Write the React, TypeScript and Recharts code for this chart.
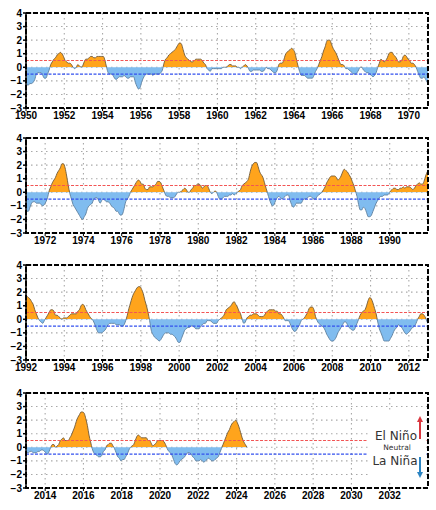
import React from 'react';
import { AreaChart, Area, XAxis, YAxis, CartesianGrid, ReferenceLine, ReferenceArea } from 'recharts';

// Oceanic Niño Index, 3-month running means (DJF ... NDJ), per decade
const oni1950s = [
  -1.3, -1.3, -1.2, -1.2, -1.1, -0.9, -0.5, -0.4, -0.4, -0.4, -0.6, -0.8,
  -0.8, -0.5, -0.2, 0.2, 0.4, 0.6, 0.7, 0.9, 1.0, 1.1, 1.0, 0.8,
  0.5, 0.4, 0.3, 0.3, 0.2, 0.0, -0.1, 0.0, 0.2, 0.1, 0.0, 0.1,
  0.4, 0.6, 0.6, 0.7, 0.8, 0.8, 0.7, 0.7, 0.8, 0.8, 0.8, 0.8,
  0.8, 0.5, 0.0, -0.4, -0.5, -0.5, -0.6, -0.8, -0.9, -0.8, -0.7, -0.7,
  -0.7, -0.6, -0.7, -0.8, -0.8, -0.7, -0.7, -0.7, -1.1, -1.4, -1.6, -1.5,
  -1.1, -0.8, -0.6, -0.5, -0.5, -0.5, -0.5, -0.6, -0.5, -0.5, -0.5, -0.5,
  -0.4, -0.2, 0.3, 0.6, 0.7, 0.9, 1.0, 1.1, 1.2, 1.3, 1.5, 1.7,
  1.8, 1.7, 1.3, 0.9, 0.7, 0.6, 0.5, 0.4, 0.4, 0.5, 0.6, 0.6,
  0.6, 0.6, 0.5, 0.3, 0.2, -0.1, -0.2, -0.3, -0.1, -0.1, -0.1, -0.1,
];
const oni1960s = [
  -0.1, -0.1, -0.1, 0.0, 0.0, 0.0, 0.1, 0.2, 0.2, 0.1, 0.1, 0.1,
  0.0, 0.0, -0.1, 0.0, 0.1, 0.2, 0.1, -0.1, -0.3, -0.3, -0.2, -0.2,
  -0.2, -0.2, -0.2, -0.3, -0.3, -0.2, 0.0, -0.1, -0.1, -0.2, -0.3, -0.4,
  -0.4, -0.2, 0.2, 0.3, 0.3, 0.5, 0.9, 1.1, 1.2, 1.3, 1.4, 1.3,
  1.1, 0.6, 0.1, -0.3, -0.6, -0.6, -0.6, -0.7, -0.8, -0.8, -0.8, -0.8,
  -0.6, -0.3, -0.1, 0.2, 0.5, 0.8, 1.2, 1.5, 1.9, 2.0, 2.0, 1.7,
  1.4, 1.2, 1.0, 0.7, 0.4, 0.2, 0.2, 0.1, -0.1, -0.1, -0.2, -0.3,
  -0.4, -0.5, -0.5, -0.4, -0.2, 0.0, 0.0, -0.2, -0.3, -0.4, -0.4, -0.5,
  -0.6, -0.7, -0.6, -0.4, 0.0, 0.3, 0.6, 0.5, 0.4, 0.5, 0.7, 1.0,
  1.1, 1.1, 0.9, 0.8, 0.6, 0.4, 0.4, 0.5, 0.8, 0.9, 0.8, 0.6,
];
const oni1970s = [
  0.5, 0.3, 0.3, 0.2, 0.0, -0.3, -0.6, -0.8, -0.8, -0.7, -0.9, -1.1,
  -1.4, -1.4, -1.1, -0.8, -0.7, -0.7, -0.8, -0.8, -0.8, -0.9, -1.0, -0.9,
  -0.7, -0.4, 0.1, 0.4, 0.7, 0.9, 1.1, 1.4, 1.6, 1.8, 2.1, 2.1,
  1.8, 1.2, 0.5, -0.1, -0.5, -0.9, -1.1, -1.3, -1.5, -1.7, -1.9, -2.0,
  -1.8, -1.6, -1.2, -1.0, -0.9, -0.8, -0.5, -0.4, -0.4, -0.6, -0.8, -0.6,
  -0.5, -0.6, -0.7, -0.7, -0.8, -1.0, -1.1, -1.2, -1.4, -1.4, -1.6, -1.7,
  -1.6, -1.2, -0.7, -0.5, -0.3, 0.0, 0.2, 0.4, 0.6, 0.8, 0.9, 0.8,
  0.6, 0.6, 0.3, 0.2, 0.2, 0.4, 0.4, 0.4, 0.5, 0.6, 0.8, 0.8,
  0.7, 0.4, 0.1, -0.2, -0.3, -0.3, -0.4, -0.4, -0.4, -0.3, -0.1, 0.0,
  0.0, 0.1, 0.2, 0.3, 0.2, 0.0, 0.0, 0.2, 0.3, 0.5, 0.5, 0.6,
];
const oni1980s = [
  0.6, 0.5, 0.3, 0.4, 0.5, 0.5, 0.3, 0.0, -0.1, 0.0, 0.1, 0.0,
  -0.3, -0.5, -0.5, -0.4, -0.3, -0.3, -0.3, -0.2, -0.2, -0.1, -0.2, -0.1,
  0.0, 0.1, 0.2, 0.5, 0.6, 0.7, 0.8, 1.0, 1.5, 1.9, 2.1, 2.2,
  2.2, 1.9, 1.5, 1.3, 1.1, 0.7, 0.3, -0.1, -0.5, -0.8, -1.0, -0.9,
  -0.6, -0.4, -0.3, -0.4, -0.5, -0.4, -0.3, -0.2, -0.2, -0.6, -0.9, -1.1,
  -1.0, -0.8, -0.8, -0.8, -0.8, -0.6, -0.5, -0.5, -0.4, -0.3, -0.3, -0.4,
  -0.5, -0.5, -0.3, -0.2, -0.1, 0.0, 0.2, 0.4, 0.7, 0.9, 1.1, 1.2,
  1.2, 1.2, 1.1, 0.9, 1.0, 1.2, 1.5, 1.7, 1.6, 1.5, 1.3, 1.1,
  0.8, 0.5, 0.1, -0.3, -0.9, -1.3, -1.3, -1.1, -1.2, -1.5, -1.8, -1.8,
  -1.7, -1.4, -1.1, -0.8, -0.6, -0.4, -0.3, -0.3, -0.2, -0.2, -0.2, -0.1,
];
const oni1990s = [
  0.1, 0.2, 0.3, 0.3, 0.2, 0.2, 0.3, 0.3, 0.4, 0.3, 0.4, 0.4,
  0.4, 0.3, 0.2, 0.3, 0.5, 0.6, 0.7, 0.6, 0.6, 0.8, 1.2, 1.5,
  1.7, 1.6, 1.5, 1.3, 1.1, 0.7, 0.4, 0.1, -0.1, -0.2, -0.3, -0.1,
  0.1, 0.3, 0.5, 0.7, 0.7, 0.6, 0.3, 0.3, 0.2, 0.1, 0.0, 0.1,
  0.1, 0.1, 0.2, 0.3, 0.4, 0.4, 0.4, 0.4, 0.6, 0.7, 1.0, 1.1,
  1.0, 0.7, 0.5, 0.3, 0.1, 0.0, -0.2, -0.5, -0.8, -1.0, -1.0, -1.0,
  -0.9, -0.8, -0.6, -0.4, -0.3, -0.3, -0.3, -0.3, -0.4, -0.4, -0.4, -0.5,
  -0.5, -0.4, -0.1, 0.3, 0.8, 1.2, 1.6, 1.9, 2.1, 2.3, 2.4, 2.4,
  2.2, 1.9, 1.4, 1.0, 0.5, -0.1, -0.8, -1.1, -1.3, -1.4, -1.5, -1.6,
  -1.5, -1.3, -1.1, -1.0, -1.0, -1.0, -1.1, -1.1, -1.2, -1.3, -1.5, -1.7,
];
const oni2000s = [
  -1.7, -1.4, -1.1, -0.8, -0.7, -0.6, -0.6, -0.5, -0.5, -0.6, -0.7, -0.7,
  -0.7, -0.5, -0.4, -0.3, -0.3, -0.1, -0.1, -0.1, -0.2, -0.3, -0.3, -0.3,
  -0.1, 0.0, 0.1, 0.2, 0.4, 0.7, 0.8, 0.9, 1.0, 1.2, 1.3, 1.1,
  0.9, 0.6, 0.4, 0.0, -0.3, -0.2, 0.1, 0.2, 0.3, 0.3, 0.4, 0.4,
  0.4, 0.3, 0.2, 0.2, 0.2, 0.3, 0.5, 0.6, 0.7, 0.7, 0.7, 0.7,
  0.6, 0.6, 0.4, 0.4, 0.3, 0.1, -0.1, -0.1, -0.1, -0.3, -0.6, -0.8,
  -0.9, -0.8, -0.6, -0.4, -0.1, 0.0, 0.1, 0.3, 0.5, 0.8, 0.9, 0.9,
  0.7, 0.2, -0.1, -0.3, -0.4, -0.5, -0.6, -0.8, -1.1, -1.3, -1.5, -1.6,
  -1.6, -1.5, -1.3, -1.0, -0.8, -0.6, -0.4, -0.2, -0.2, -0.4, -0.6, -0.7,
  -0.8, -0.8, -0.6, -0.3, 0.0, 0.3, 0.5, 0.6, 0.7, 1.0, 1.4, 1.6,
];
const oni2010s = [
  1.5, 1.2, 0.8, 0.4, -0.2, -0.7, -1.0, -1.3, -1.6, -1.6, -1.6, -1.6,
  -1.4, -1.2, -0.9, -0.7, -0.6, -0.4, -0.5, -0.6, -0.8, -1.0, -1.1, -1.0,
  -0.9, -0.7, -0.6, -0.5, -0.3, 0.0, 0.2, 0.4, 0.4, 0.3, 0.1, -0.2,
  -0.4, -0.4, -0.3, -0.3, -0.4, -0.4, -0.4, -0.3, -0.3, -0.2, -0.2, -0.3,
  -0.4, -0.5, -0.3, 0.0, 0.2, 0.2, 0.0, 0.1, 0.2, 0.5, 0.6, 0.7,
  0.5, 0.5, 0.5, 0.7, 0.9, 1.2, 1.5, 1.9, 2.2, 2.4, 2.6, 2.6,
  2.5, 2.1, 1.6, 0.9, 0.4, -0.1, -0.4, -0.5, -0.6, -0.7, -0.7, -0.6,
  -0.3, -0.2, 0.1, 0.2, 0.3, 0.3, 0.1, -0.1, -0.4, -0.7, -0.8, -1.0,
  -0.9, -0.9, -0.7, -0.5, -0.2, 0.0, 0.1, 0.2, 0.5, 0.8, 0.9, 0.8,
  0.7, 0.7, 0.7, 0.7, 0.5, 0.5, 0.3, 0.1, 0.2, 0.3, 0.5, 0.5,
];
const oni2020s = [
  0.5, 0.5, 0.4, 0.2, -0.1, -0.3, -0.4, -0.6, -0.9, -1.2, -1.3, -1.2,
  -1.0, -0.9, -0.8, -0.7, -0.5, -0.4, -0.4, -0.5, -0.7, -0.8, -1.0, -1.0,
  -1.0, -0.9, -1.0, -1.1, -1.0, -0.9, -0.8, -0.9, -1.0, -1.0, -0.9, -0.8,
  -0.7, -0.4, -0.1, 0.2, 0.5, 0.8, 1.1, 1.3, 1.6, 1.8, 1.9, 2.0,
  1.8, 1.5, 1.1, 0.7, 0.4, 0.2, 0.0,
];

const firstYear = 1950;
const panelStarts = [1950, 1971, 1992, 2013];
const panelSpan = 21;
const yTicks = [-3, -2, -1, 0, 1, 2, 3, 4];
const elNinoThreshold = 0.5;
const laNinaThreshold = -0.5;

const allValues = [
  ...oni1950s, ...oni1960s, ...oni1970s, ...oni1980s,
  ...oni1990s, ...oni2000s, ...oni2010s, ...oni2020s,
];
const series = allValues.map((v, i) => ({ t: firstYear + (i + 0.5) / 12, v }));

const ORANGE = '#ffa41c';
const BLUE = '#80bcef';
const tickFont = { fill: '#000', fontSize: 10, fontWeight: 'bold', fontFamily: '"Liberation Sans", Arial, sans-serif' };
const fmtY = (v: number) => (v < 0 ? '\u2212' + Math.abs(v) : String(v));

function Panel({ start, top, id }: { start: number; top: number; id: number }) {
  const end = start + panelSpan;
  const data = series.filter((d) => d.t >= start - 0.1 && d.t <= end + 0.1);
  const ticks: number[] = [];
  for (let y = Math.ceil(start / 2) * 2; y < end; y += 2) ticks.push(y);
  const vals = data.map((d) => d.v);
  const maxV = Math.max(0, ...vals);
  const minV = Math.min(0, ...vals);
  const off = maxV === minV ? 0.5 : maxV / (maxV - minV);
  const extra: any = { zIndex: 450 };
  const frameExtra: any = { zIndex: 600 };
  return (
    <div style={{ position: 'absolute', left: 0, top }}>
      <AreaChart width={436} height={125} data={data} margin={{ top: 13, right: 8, bottom: 0, left: 0 }}>
        <defs>
          <linearGradient id={`fill${id}`} x1="0" y1="0" x2="0" y2="1">
            <stop offset={off} stopColor={ORANGE} />
            <stop offset={off} stopColor={BLUE} />
          </linearGradient>
          <linearGradient id={`line${id}`} x1="0" y1="0" x2="0" y2="1">
            <stop offset={off} stopColor="#6f5a3a" />
            <stop offset={off} stopColor="#5d7f9e" />
          </linearGradient>
        </defs>
        <CartesianGrid stroke="#a9a9a9" strokeDasharray="1.5 3.5" strokeWidth={1.1} />
        <XAxis
          type="number"
          dataKey="t"
          domain={[start, end]}
          ticks={ticks}
          interval={0}
          allowDataOverflow
          height={17}
          tickSize={3}
          tickMargin={1}
          axisLine={false}
          tickLine={{ stroke: '#000' }}
          tick={tickFont}
        />
        <YAxis
          type="number"
          domain={[-3, 4]}
          ticks={yTicks}
          interval={0}
          allowDataOverflow
          width={26}
          tickSize={3}
          tickMargin={1}
          axisLine={{ stroke: '#000', strokeWidth: 1.5 }}
          tickLine={{ stroke: '#000', strokeWidth: 1.5 }}
          tick={tickFont}
          tickFormatter={fmtY}
        />
        <Area
          type="monotone"
          dataKey="v"
          baseValue={0}
          fill={`url(#fill${id})`}
          fillOpacity={1}
          stroke={`url(#line${id})`}
          strokeWidth={0.9}
          dot={false}
          activeDot={false}
          isAnimationActive={false}
        />
        <ReferenceLine y={elNinoThreshold} stroke="#f25555" strokeDasharray="3 1.5" strokeWidth={1.2} {...extra} />
        <ReferenceLine y={laNinaThreshold} stroke="#3350ee" strokeDasharray="3 1.5" strokeWidth={1.3} {...extra} />
        <ReferenceArea x1={start} x2={end} y1={-3} y2={4} fill="none" fillOpacity={0} stroke="#000" strokeWidth={2} strokeDasharray="5 2" {...frameExtra} />
      </AreaChart>
    </div>
  );
}

const panelTops = [0, 125, 252, 380];

export default function App() {
  return (
    <div style={{ position: 'absolute', left: 0, top: 0, width: 436, height: 510, background: '#fff', overflow: 'hidden' }}>
      {panelStarts.map((s, i) => (
        <Panel key={s} start={s} top={panelTops[i]} id={i} />
      ))}
      <svg width={436} height={510} style={{ position: 'absolute', left: 0, top: 0, pointerEvents: 'none' }}>
        <rect x={368} y={411} width={58} height={70} fill="#fff" />
        <text x={396} y={440} textAnchor="middle" fontSize={12} fill="#333" fontFamily='"DejaVu Sans", sans-serif'>El Niño</text>
        <text x={397} y={450} textAnchor="middle" fontSize={7.5} fill="#333" fontFamily='"DejaVu Sans", sans-serif'>Neutral</text>
        <text x={395} y={465} textAnchor="middle" fontSize={12} fill="#333" fontFamily='"DejaVu Sans", sans-serif'>La Niña</text>
        <line x1={420} y1={439} x2={420} y2={421} stroke="#d9373f" strokeWidth={2} />
        <polygon points="420,416 417,422 423,422" fill="#d9373f" />
        <line x1={420} y1={457} x2={420} y2={473} stroke="#2c84c2" strokeWidth={2} />
        <polygon points="420,478 417,472 423,472" fill="#2c84c2" />
      </svg>
    </div>
  );
}
